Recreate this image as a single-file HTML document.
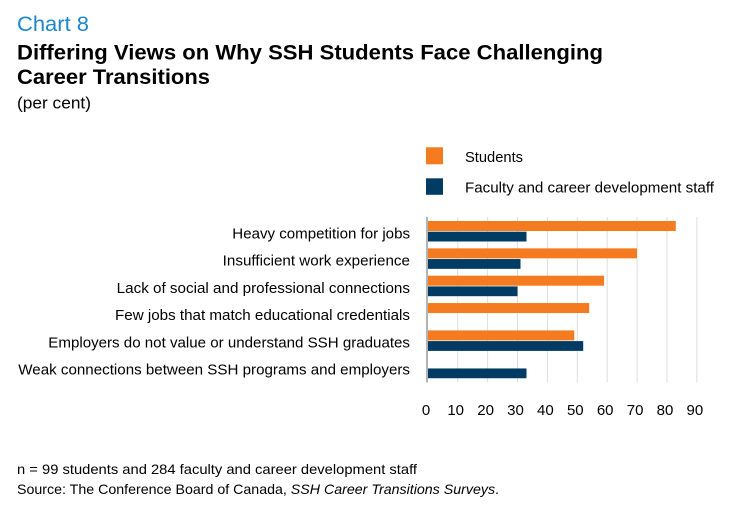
<!DOCTYPE html>
<html>
<head>
<meta charset="utf-8">
<style>
  html, body { margin: 0; padding: 0; background: #ffffff; }
  svg { display: block; }
  text { font-family: "Liberation Sans", Arial, Helvetica, sans-serif; }
</style>
</head>
<body>
<svg width="749" height="516" viewBox="0 0 749 516" xmlns="http://www.w3.org/2000/svg">
  <rect x="0" y="0" width="749" height="516" fill="#ffffff"/>

  <!-- Header -->
  <text x="17" y="31" font-size="21.5" fill="#1b87c9" textLength="72" lengthAdjust="spacingAndGlyphs">Chart 8</text>
  <text x="17" y="59.5" font-size="21" font-weight="bold" fill="#000" textLength="586" lengthAdjust="spacingAndGlyphs">Differing Views on Why SSH Students Face Challenging</text>
  <text x="17" y="84" font-size="21" font-weight="bold" fill="#000" textLength="193" lengthAdjust="spacingAndGlyphs">Career Transitions</text>
  <text x="17" y="108.5" font-size="16.5" fill="#000" textLength="74" lengthAdjust="spacingAndGlyphs">(per cent)</text>

  <!-- Legend -->
  <rect x="426" y="147.3" width="17" height="17" fill="#f47b20"/>
  <text x="465" y="162" font-size="15" fill="#000" textLength="58" lengthAdjust="spacingAndGlyphs">Students</text>
  <rect x="426" y="178.3" width="17" height="16.5" fill="#003b64"/>
  <text x="465" y="192.5" font-size="15" fill="#000" textLength="249" lengthAdjust="spacingAndGlyphs">Faculty and career development staff</text>

  <!-- Gridlines -->
  <g stroke="#dedede" stroke-width="1">
    <line x1="457.7" y1="217" x2="457.7" y2="382.5"/>
    <line x1="487.6" y1="217" x2="487.6" y2="382.5"/>
    <line x1="517.5" y1="217" x2="517.5" y2="382.5"/>
    <line x1="547.4" y1="217" x2="547.4" y2="382.5"/>
    <line x1="577.3" y1="217" x2="577.3" y2="382.5"/>
    <line x1="607.2" y1="217" x2="607.2" y2="382.5"/>
    <line x1="637.1" y1="217" x2="637.1" y2="382.5"/>
    <line x1="667.0" y1="217" x2="667.0" y2="382.5"/>
    <line x1="696.9" y1="217" x2="696.9" y2="382.5"/>
  </g>

  <!-- Bars: x0 = 428, 2.985 px per unit -->
  <rect x="428" y="221" width="247.8" height="10" fill="#f47b20"/>
  <rect x="428" y="231.7" width="98.5" height="9.8" fill="#003b64"/>
  <rect x="428" y="248.35" width="209" height="10" fill="#f47b20"/>
  <rect x="428" y="259.05" width="92.5" height="9.8" fill="#003b64"/>
  <rect x="428" y="275.7" width="176.1" height="10" fill="#f47b20"/>
  <rect x="428" y="286.4" width="89.5" height="9.8" fill="#003b64"/>
  <rect x="428" y="303.05" width="161.2" height="10" fill="#f47b20"/>
  <rect x="428" y="330.4" width="146.3" height="10" fill="#f47b20"/>
  <rect x="428" y="341.1" width="155.2" height="9.8" fill="#003b64"/>
  <rect x="428" y="368.45" width="98.5" height="9.8" fill="#003b64"/>

  <!-- Axis line -->
  <line x1="427" y1="217" x2="427" y2="382.5" stroke="#9a9a9a" stroke-width="1.5"/>

  <!-- Category labels -->
  <g font-size="15" fill="#000">
    <text x="232.3" y="238.5" textLength="177.7" lengthAdjust="spacingAndGlyphs">Heavy competition for jobs</text>
    <text x="222.7" y="265.7" textLength="187.3" lengthAdjust="spacingAndGlyphs">Insufficient work experience</text>
    <text x="116.7" y="292.9" textLength="293.3" lengthAdjust="spacingAndGlyphs">Lack of social and professional connections</text>
    <text x="115" y="320.1" textLength="295" lengthAdjust="spacingAndGlyphs">Few jobs that match educational credentials</text>
    <text x="48.3" y="347.3" textLength="361.7" lengthAdjust="spacingAndGlyphs">Employers do not value or understand SSH graduates</text>
    <text x="18.3" y="374.5" textLength="391.7" lengthAdjust="spacingAndGlyphs">Weak connections between SSH programs and employers</text>
  </g>

  <!-- Tick labels -->
  <g font-size="15" fill="#000" text-anchor="middle">
    <text x="426" y="415">0</text>
    <text x="455.7" y="415">10</text>
    <text x="485.6" y="415">20</text>
    <text x="515.5" y="415">30</text>
    <text x="545.4" y="415">40</text>
    <text x="575.3" y="415">50</text>
    <text x="605.2" y="415">60</text>
    <text x="635.1" y="415">70</text>
    <text x="665.0" y="415">80</text>
    <text x="694.9" y="415">90</text>
  </g>

  <!-- Footnotes -->
  <text x="17" y="474" font-size="14" fill="#000" textLength="400" lengthAdjust="spacingAndGlyphs">n = 99 students and 284 faculty and career development staff</text>
  <text x="17" y="494" font-size="14" fill="#000" textLength="482" lengthAdjust="spacingAndGlyphs">Source: The Conference Board of Canada, <tspan font-style="italic">SSH Career Transitions Surveys</tspan>.</text>
</svg>
</body>
</html>
